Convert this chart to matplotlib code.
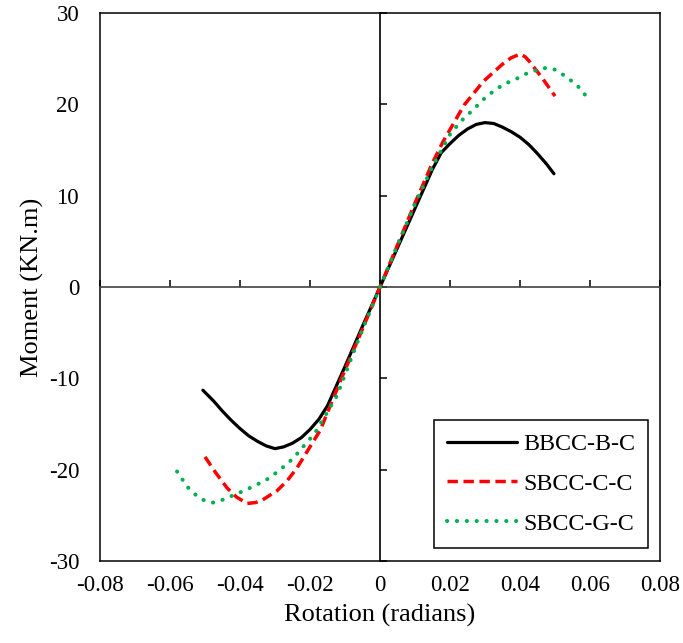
import matplotlib
matplotlib.use("Agg")
import matplotlib.pyplot as plt

plt.rcParams['font.family'] = ['Liberation Serif', 'DejaVu Serif']
plt.rcParams['axes.unicode_minus'] = False

# BBCC-B-C
bb_x = [-0.0506, -0.0475, -0.045, -0.0425, -0.040, -0.0375, -0.035, -0.0325, -0.030, -0.0275,
        -0.025, -0.0225, -0.020, -0.0175, -0.015, -0.010, -0.005, 0.0,
        0.005, 0.010, 0.015, 0.0175, 0.020, 0.0225, 0.025, 0.0275, 0.030, 0.0325, 0.035,
        0.0375, 0.040, 0.0425, 0.045, 0.0475, 0.0497]
bb_y = [-11.3, -12.5, -13.6, -14.6, -15.5, -16.3, -16.9, -17.4, -17.7, -17.5,
        -17.1, -16.5, -15.6, -14.5, -13.0, -8.7, -4.3, 0.0,
        4.3, 8.6, 12.9, 14.7, 15.7, 16.6, 17.3, 17.8, 18.0, 17.9, 17.5,
        17.0, 16.4, 15.6, 14.6, 13.5, 12.4]

# SBCC-C-C
sc_x = [-0.050, -0.047, -0.0437, -0.041, -0.038, -0.0355, -0.0335, -0.0294, -0.0265, -0.0237,
        -0.0171, -0.0109, -0.005, 0.0,
        0.005, 0.010, 0.015, 0.018, 0.024, 0.0295, 0.035, 0.0375, 0.040, 0.0415, 0.0429,
        0.0465, 0.050]
sc_y = [-18.6, -20.3, -22.0, -23.0, -23.7, -23.6, -23.3, -22.3, -21.2, -19.8,
        -15.7, -9.9, -4.6, 0.0,
        4.6, 9.2, 13.6, 15.9, 19.9, 22.5, 24.4, 25.1, 25.5, 25.2, 24.6,
        22.8, 20.9]

# SBCC-G-C
sg_x = [-0.058, -0.055, -0.052, -0.050, -0.0477, -0.045, -0.0406, -0.036, -0.032, -0.0285,
        -0.0249, -0.0186, -0.0123, -0.006, 0.0,
        0.005, 0.010, 0.015, 0.020, 0.023, 0.0263, 0.030, 0.0333, 0.036, 0.039, 0.042,
        0.046, 0.0477, 0.050, 0.0533, 0.0565, 0.060]
sg_y = [-20.2, -21.9, -23.0, -23.4, -23.6, -23.3, -22.6, -21.8, -21.0, -20.0,
        -18.8, -16.0, -11.9, -5.6, 0.0,
        4.6, 9.1, 13.2, 16.7, 18.1, 19.3, 20.7, 21.7, 22.3, 22.8, 23.4,
        23.9, 24.0, 23.8, 23.0, 22.0, 20.4]

x_ticks = [-0.08, -0.06, -0.04, -0.02, 0, 0.02, 0.04, 0.06, 0.08]
x_labels = ['-0.08', '-0.06', '-0.04', '-0.02', '0', '0.02', '0.04', '0.06', '0.08']
y_ticks = [-30, -20, -10, 0, 10, 20, 30]

fig = plt.figure(figsize=(6.83, 6.43), dpi=100)
pos = [100 / 683, 1 - 561 / 643, 560 / 683, 548 / 643]

# outer frame with labels
ax = fig.add_axes(pos)
ax.set_xlim(-0.08, 0.08)
ax.set_ylim(-30, 30)
ax.set_xticks(x_ticks)
ax.set_xticklabels(x_labels)
ax.set_yticks(y_ticks)
ax.tick_params(length=0, labelsize=16.5, colors='black')
ax.tick_params(axis='y', pad=15)
ax.tick_params(axis='x', pad=10)
for s in ax.spines.values():
    s.set_linewidth(1.1)
    s.set_color('black')
ax.set_xlabel('Rotation (radians)', fontsize=19, labelpad=6)
ax.set_ylabel('Moment (KN.m)', fontsize=19, labelpad=3)

# center axes through zero
ax2 = fig.add_axes(pos, sharex=ax, sharey=ax)
ax2.patch.set_visible(False)
ax2.spines['top'].set_visible(False)
ax2.spines['right'].set_visible(False)
ax2.spines['left'].set_position(('data', 0))
ax2.spines['bottom'].set_position(('data', 0))
ax2.spines['left'].set_linewidth(1.2)
ax2.spines['bottom'].set_linewidth(1.2)
ax2.spines['bottom'].set_color('#404040')
ax2.tick_params(direction='in', length=5, width=1.1, labelleft=False, labelbottom=False)

l1, = ax2.plot(bb_x, bb_y, color='black', lw=2.3, solid_capstyle='round',
               solid_joinstyle='round', zorder=3, label='BBCC-B-C')
l2, = ax2.plot(sc_x, sc_y, color='#FF0000', lw=2.5, linestyle=(0, (3.0, 1.6)),
               zorder=3, label='SBCC-C-C')
l3, = ax2.plot(sg_x, sg_y, color='#00B050', lw=2.9, linestyle=(0, (0.05, 2.4)),
               dash_capstyle='round', zorder=3, label='SBCC-G-C')

leg = ax2.legend(handles=[l1, l2, l3], loc='lower right', bbox_to_anchor=(0.979, 0.024),
                 borderaxespad=0, fontsize=17.3, handlelength=2.9, handletextpad=0.25,
                 labelspacing=0.75, borderpad=0.55, fancybox=False, framealpha=1,
                 edgecolor='black')
leg.get_frame().set_linewidth(1.1)

fig.savefig('out.png', dpi=100)
